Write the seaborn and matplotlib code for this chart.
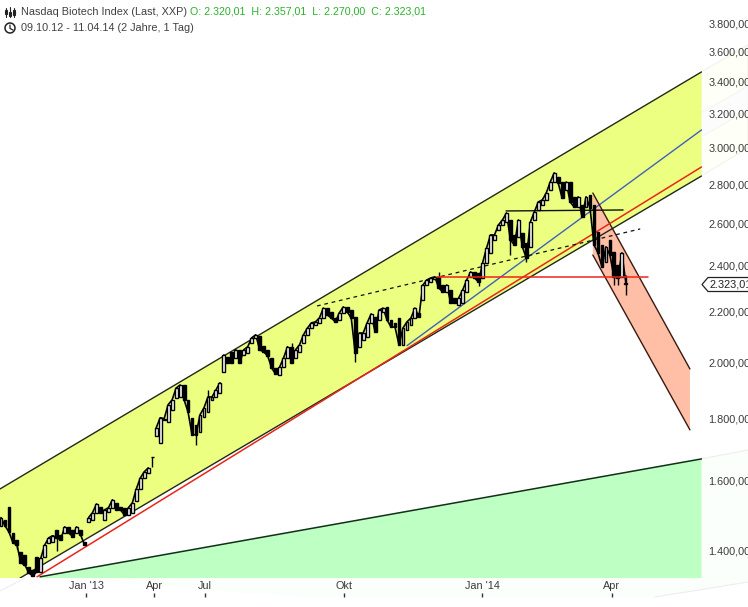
import numpy as np
import pandas as pd
import seaborn as sns
import matplotlib
matplotlib.use("Agg")
import matplotlib.pyplot as plt
from matplotlib.patches import Polygon
from matplotlib.lines import Line2D

# ---- data -------------------------------------------------------------
opens = [1468,1485,1522,1449,1430,1398,1389,1357,1351,1384,1346,1384,1422,1425,1457,1443,1449,1465,1457,1449,
         1457,1425,1479,1485,1505,1522,1485,1507,1519,1533,1522,1519,1499,1505,1539,1574,1607,1623,1672,1740,
         1717,1794,1787,1828,1870,1873,1916,1863,1801,1777,1753,1804,1821,1863,1873,1887,1964,2021,2040,2017,
         2048,2028,2036,2075,2095,2103,2063,2048,2017,1979,1953,1982,2017,2060,2017,2040,2075,2107,2134,2147,
         2155,2175,2216,2200,2175,2167,2196,2221,2208,2179,2060,2087,2099,2155,2179,2167,2200,2221,2167,2155,
         2175,2067,2126,2147,2175,2196,2251,2315,2328,2342,2351,2315,2285,2293,2259,2229,2238,2285,2351,2373,
         2369,2346,2414,2460,2521,2569,2594,2608,2618,2545,2535,2555,2507,2488,2618,2668,2694,2719,2771,2813,
         2840,2813,2771,2813,2735,2683,2694,2683,2745,2694,2560,2497,2418,2521,2465,2405,2351,2320]
closes = [1491,1468,1451,1422,1416,1369,1363,1343,1335,1346,1381,1416,1435,1441,1435,1430,1465,1449,1438,1465,
          1443,1416,1491,1505,1530,1505,1513,1519,1542,1513,1513,1499,1519,1533,1574,1607,1626,1638,1672,1767,
          1801,1798,1846,1863,1905,1916,1863,1821,1744,1744,1811,1835,1873,1873,1898,1924,2028,1998,1998,2048,
          1998,2048,2060,2095,2107,2048,2040,2025,1979,1956,1982,2017,2060,1998,2048,2067,2107,2134,2155,2159,
          2175,2216,2187,2175,2159,2196,2221,2200,2175,2036,2114,2114,2155,2192,2118,2208,2216,2167,2138,2138,
          2067,2134,2159,2175,2216,2179,2315,2337,2346,2351,2302,2285,2315,2238,2238,2259,2293,2337,2373,2346,
          2328,2414,2483,2545,2545,2594,2618,2653,2521,2497,2618,2488,2436,2608,2658,2709,2719,2755,2813,2862,
          2808,2729,2813,2709,2683,2735,2633,2735,2678,2497,2460,2396,2488,2450,2351,2346,2460,2323]
sessions = list(range(len(opens)))

wick_sessions = [2, 4, 14, 38, 42, 49, 52, 73, 89, 110, 120, 128, 132, 141, 154, 155, 157]
wick_highs    = [1522, 1430, 1457, 1672, 1846, 1777, 1898, 2075, 2179, 2373, 2369, 2618, 2507, 2813, 2465, 2405, 2357]
wick_lows     = [1451, 1405, 1400, 1641, 1787, 1711, 1821, 1998, 2001, 2302, 2310, 2450, 2418, 2729, 2315, 2315, 2270]

x_tick_sessions = [21.36, 38.44, 51.26, 86.2, 120.9, 153.5]
x_tick_labels = ["Jan '13", "Apr", "Jul", "Okt", "Jan '14", "Apr"]
y_tick_values = [1400, 1600, 1800, 2000, 2200, 2400, 2600, 2800, 3000, 3200, 3400, 3600, 3800]
y_tick_labels = ["1.400,00", "1.600,00", "1.800,00", "2.000,00", "2.200,00", "2.400,00", "2.600,00",
                 "2.800,00", "3.000,00", "3.200,00", "3.400,00", "3.600,00", "3.800,00"]

upper_x, upper_y = [-0.25, 176.0], [1574, 3464]
lower_x, lower_y = [4.8, 176.0], [1330, 2845]
red_x, red_y = [9.05, 176.0], [1333, 2894]
blue_x, blue_y = [102.0, 176.0], [2064, 3104]
green_x, green_y = [9.8, 176.0], [1333, 1666]
red_h_x, red_h_y = [109.5, 162.6], [2351, 2351]
black_h_x, black_h_y = [126.9, 156.3], [2663, 2668]
dash_x, dash_y = [79.4, 160.6], [2225, 2574]
peach_top_x, peach_top_y = [148.7, 173.1], [2755, 1975]
peach_low_x, peach_low_y = [148.7, 173.1], [2450, 1760]

# ---- style ------------------------------------------------------------
sns.set_style("white")
plt.rcParams["font.family"] = ["Liberation Sans", "DejaVu Sans"]
W, H = 748, 607
FS = 7.8
fig = plt.figure(figsize=(W / 100, H / 100), dpi=100, facecolor="white")
ax = fig.add_axes([0, 1 - 578 / H, 702 / W, 578 / H])
ax.patch.set_alpha(0)
ax.set_yscale("log")
ax.set_xlim(-0.25, 176.13)
ax.set_ylim(1330, 3969)
for s in ax.spines.values():
    s.set_visible(False)

YELLOW, GREEN, PEACH = "#ECFF80", "#BEFFC3", "#FFBFA6"


def px(x, y):
    return (x / W, 1 - y / H)


# pale fading continuations outside the plot area
fig.add_artist(Polygon([px(701, 72), px(748, 45), px(748, 148), px(701, 176)], closed=True,
                       transform=fig.transFigure, fc="#FEFFF6", ec="#F2F2EC", lw=0.8, zorder=-2))
fig.add_artist(Polygon([px(701, 113), px(748, 86), px(748, 110), px(701, 137)], closed=True,
                       transform=fig.transFigure, fc="#FCFCFC", ec="#F3F3F3", lw=0.6, zorder=-2))
fig.add_artist(Polygon([px(60, 578), px(701, 578), px(701, 459), px(748, 450), px(748, 582), px(655, 597), px(300, 597)],
                       closed=True, transform=fig.transFigure, fc="#FBFFFB", ec="none", zorder=-2))
fig.add_artist(Line2D([701 / W, 1], [1 - 459 / H, 1 - 450 / H], transform=fig.transFigure, color="#EDEDED", lw=0.8, zorder=-1))
fig.add_artist(Line2D([655 / W, 1], [1 - 597 / H, 1 - 582 / H], transform=fig.transFigure, color="#EDEDED", lw=0.8, zorder=-1))
fig.add_artist(Line2D([0, 25 / W], [1 - 591 / H, 1 - 578 / H], transform=fig.transFigure, color="#EDEDED", lw=0.8, zorder=-1))

# filled zones
ax.fill(upper_x + lower_x[::-1] + [-0.25], upper_y + lower_y[::-1] + [1330], color=YELLOW, lw=0, zorder=1)
ax.fill(green_x + [176.0, 9.8], green_y + [1330, 1330], color=GREEN, lw=0, zorder=1)
ax.fill(peach_top_x + peach_low_x[::-1], peach_top_y + peach_low_y[::-1], color=PEACH, lw=0, zorder=1.5)


def trend(xs, ys, color, lw=1.0, ls="-", z=2):
    sns.lineplot(x=xs, y=ys, ax=ax, color=color, lw=lw, ls=ls, estimator=None, sort=False,
                 legend=False, zorder=z)


trend(upper_x, upper_y, "#20281A", 1.0)
trend(lower_x, lower_y, "#20281A", 1.0)
trend(green_x, green_y, "#103018", 1.1)
trend(red_x, red_y, "#E8261A", 1.1, z=2.2)
trend(blue_x, blue_y, "#3F62B8", 1.0)
trend(peach_top_x, peach_top_y, "#3A1A10", 1.0)
trend(peach_low_x, peach_low_y, "#3A1A10", 1.0)
trend(black_h_x, black_h_y, "#101010", 1.0, z=2.5)
trend(dash_x, dash_y, "#101010", 0.9, ls=(0, (3, 3)), z=2.5)

# candles
df = pd.DataFrame({"s": sessions, "o": opens, "c": closes})
df["top"] = df[["o", "c"]].max(axis=1)
df["bot"] = df[["o", "c"]].min(axis=1)
df["up"] = df["c"] > df["o"]
# close line ties the sessions together, broken at the data gaps
for start, stop in [(0, 22), (22, 38), (39, 56), (56, 158)]:
    sns.lineplot(x=sessions[start:stop], y=closes[start:stop], ax=ax, color="black", lw=1.2,
                 estimator=None, sort=False, legend=False, zorder=2.8)
for up, part in df.groupby("up"):
    ax.bar(part["s"], part["top"] - part["bot"], bottom=part["bot"], width=0.72,
           color="white" if up else "black", edgecolor="black", linewidth=1.0, zorder=3)
ax.vlines(wick_sessions, wick_lows, wick_highs, color="black", lw=1.0, zorder=2.9)

trend(red_h_x, red_h_y, "#F0241C", 1.1, z=3.2)

# axes
ax.yaxis.tick_right()
ax.set_yticks(y_tick_values)
ax.set_yticklabels(y_tick_labels)
ax.minorticks_off()
ax.tick_params(axis="y", length=0, pad=4.5, labelsize=FS, labelcolor="#3A3A3A")
ax.set_xticks(x_tick_sessions)
ax.set_xticklabels(x_tick_labels)
ax.tick_params(axis="x", length=0, pad=2.5, labelsize=FS, labelcolor="#3A3A3A")
ax.vlines(x_tick_sessions, -19 / 578, -15 / 578, transform=ax.get_xaxis_transform(), color="#333333",
          lw=1.0, clip_on=False)

# header
fig.text(21 / W, 1 - 12 / H, "Nasdaq Biotech Index (Last, XXP)", fontsize=FS, color="#404040", va="center")
fig.text(190 / W, 1 - 12 / H, "O: 2.320,01  H: 2.357,01  L: 2.270,00  C: 2.323,01", fontsize=7.65,
         color="#2DB02D", va="center")
fig.text(21 / W, 1 - 28 / H, "09.10.12 - 11.04.14 (2 Jahre, 1 Tag)", fontsize=FS, color="#404040", va="center")

# small header icons
for xp, y0, y1, b0, b1 in [(6, 8, 17, 10, 14), (10, 7, 17, 12, 16), (14, 8, 17, 10, 15)]:
    fig.add_artist(Line2D([xp / W, xp / W], [1 - y0 / H, 1 - y1 / H], transform=fig.transFigure, color="#222222", lw=0.8))
    fig.add_artist(Polygon([px(xp - 1.2, b0), px(xp + 1.2, b0), px(xp + 1.2, b1), px(xp - 1.2, b1)], closed=True,
                           transform=fig.transFigure, fc="white", ec="#222222", lw=0.8))
fig.add_artist(Polygon([px(10 + 5 * np.cos(a), 28 + 5 * np.sin(a)) for a in np.linspace(0, 2 * np.pi, 30)], closed=True,
                       transform=fig.transFigure, fc="none", ec="#222222", lw=1.1))
fig.add_artist(Line2D([10 / W, 10 / W, 13 / W], [1 - 25 / H, 1 - 28.5 / H, 1 - 30 / H], transform=fig.transFigure,
                      color="#222222", lw=0.9))

# last price tag
fig.add_artist(Polygon([px(702, 284.5), px(708, 277.5), px(760, 277.5), px(760, 291.5), px(708, 291.5)], closed=True,
                       transform=fig.transFigure, fc="white", ec="#222222", lw=0.9, zorder=5))
fig.text(709 / W, 1 - 284.5 / H, "2.323,01", fontsize=FS, color="#222222", va="center", zorder=6)

fig.savefig("out.png", dpi=100)
